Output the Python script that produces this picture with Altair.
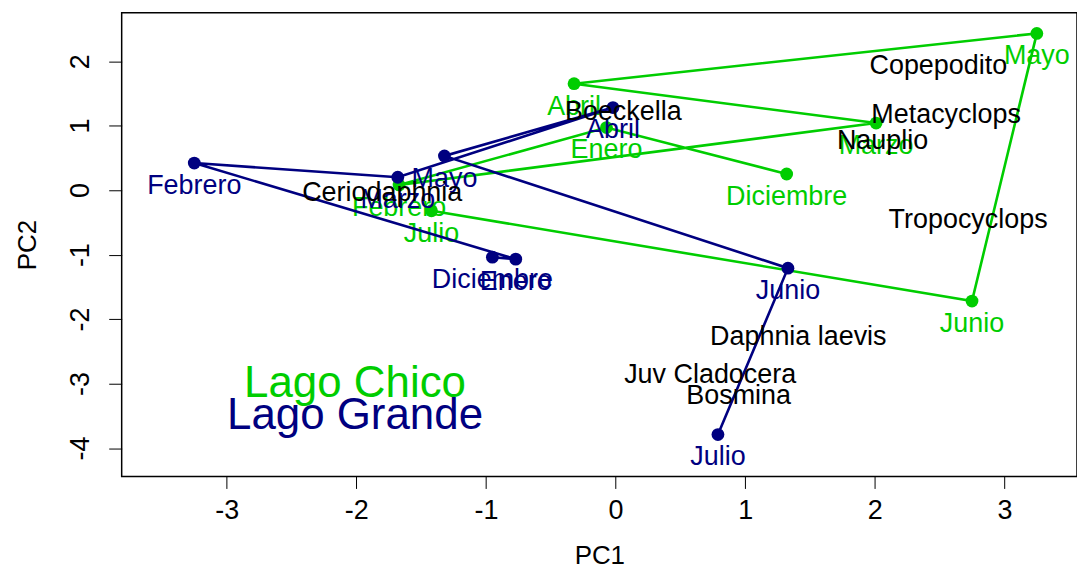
import altair as alt
import pandas as pd

months = ["Diciembre", "Enero", "Febrero", "Marzo", "Abril", "Mayo", "Junio", "Julio"]

grande_pc1 = [-0.95, -0.77, -3.25, -1.68, -0.02, -1.32, 1.33, 0.79]
grande_pc2 = [-1.04, -1.07, 0.42, 0.20, 1.28, 0.53, -1.21, -3.79]

chico_pc1 = [1.32, -0.07, -1.67, 2.01, -0.32, 3.25, 2.75, -1.42]
chico_pc2 = [0.25, 0.97, 0.08, 1.04, 1.65, 2.43, -1.72, -0.32]

species = ["Copepodito", "Boeckella", "Metacyclops", "Nauplio", "Ceriodaphnia",
           "Tropocyclops", "Daphnia laevis", "Juv Cladocera", "Bosmina"]
species_pc1 = [2.49, 0.06, 2.55, 2.06, -1.80, 2.72, 1.41, 0.73, 0.95]
species_pc2 = [1.93, 1.21, 1.17, 0.76, -0.05, -0.46, -2.27, -2.86, -3.20]

legend_names = ["Lago Chico", "Lago Grande"]
legend_pc1 = [-2.01, -2.01]
legend_pc2 = [-3.01, -3.51]

GREEN = "#00CD00"
NAVY = "#000080"
FONT = "Liberation Sans"

grande = pd.DataFrame({"mes": months, "orden": list(range(len(months))),
                       "PC1": grande_pc1, "PC2": grande_pc2})
chico = pd.DataFrame({"mes": months, "orden": list(range(len(months))),
                      "PC1": chico_pc1, "PC2": chico_pc2})
sp = pd.DataFrame({"sp": species, "PC1": species_pc1, "PC2": species_pc2})
leg = pd.DataFrame({"name": legend_names, "PC1": legend_pc1, "PC2": legend_pc2,
                    "col": [GREEN, NAVY]})

xs = alt.Scale(domain=[-3.81, 3.56], nice=False, zero=False)
ys = alt.Scale(domain=[-4.44, 2.75], nice=False, zero=False)

xax = alt.Axis(values=[-3, -2, -1, 0, 1, 2, 3], grid=False, domain=False,
               tickSize=12, tickColor="black", labelFontSize=27, labelFont=FONT,
               labelColor="black", labelPadding=9, labelExpr="'' + datum.value",
               title="PC1", titleFont=FONT,
               titleFontSize=26, titleFontWeight="normal", titlePadding=19,
               titleColor="black")
yax = alt.Axis(values=[-4, -3, -2, -1, 0, 1, 2], grid=False, domain=False,
               tickSize=13, tickColor="black", labelFontSize=27, labelFont=FONT,
               labelColor="black", labelPadding=14, labelAngle=270,
               labelExpr="'' + datum.value",
               title="PC2", titleFont=FONT, titleFontSize=26,
               titleFontWeight="normal", titlePadding=26, titleColor="black")

X = alt.X("PC1:Q", scale=xs, axis=xax)
Y = alt.Y("PC2:Q", scale=ys, axis=yax)


def lake_layers(df, color):
    base = alt.Chart(df)
    line = base.mark_line(color=color, strokeWidth=2.6).encode(
        x=X, y=Y, order="orden:Q")
    pts = base.mark_circle(color=color, size=165, opacity=1).encode(x=X, y=Y)
    lab = base.mark_text(color=color, fontSize=27, font=FONT, dy=23,
                         baseline="middle").encode(x=X, y=Y, text="mes:N")
    return line, pts, lab


cl, cp, ct = lake_layers(chico, GREEN)
gl, gp, gt = lake_layers(grande, NAVY)

sp_text = alt.Chart(sp).mark_text(color="black", fontSize=27, font=FONT,
                                  baseline="middle").encode(x=X, y=Y, text="sp:N")
leg_text = alt.Chart(leg).mark_text(fontSize=44, font=FONT, baseline="middle").encode(
    x=X, y=Y, text="name:N", color=alt.Color("col:N", scale=None))

chart = alt.layer(cl, cp, ct, gl, gp, gt, sp_text, leg_text).properties(
    width=958, height=465,
    autosize=alt.AutoSizeParams(type="none"),
    padding={"left": 114, "top": 4, "right": 0, "bottom": 92},
).configure_view(stroke="black", strokeWidth=1.5)

chart.save("out.html", embed_options={"renderer": "svg", "actions": False})
